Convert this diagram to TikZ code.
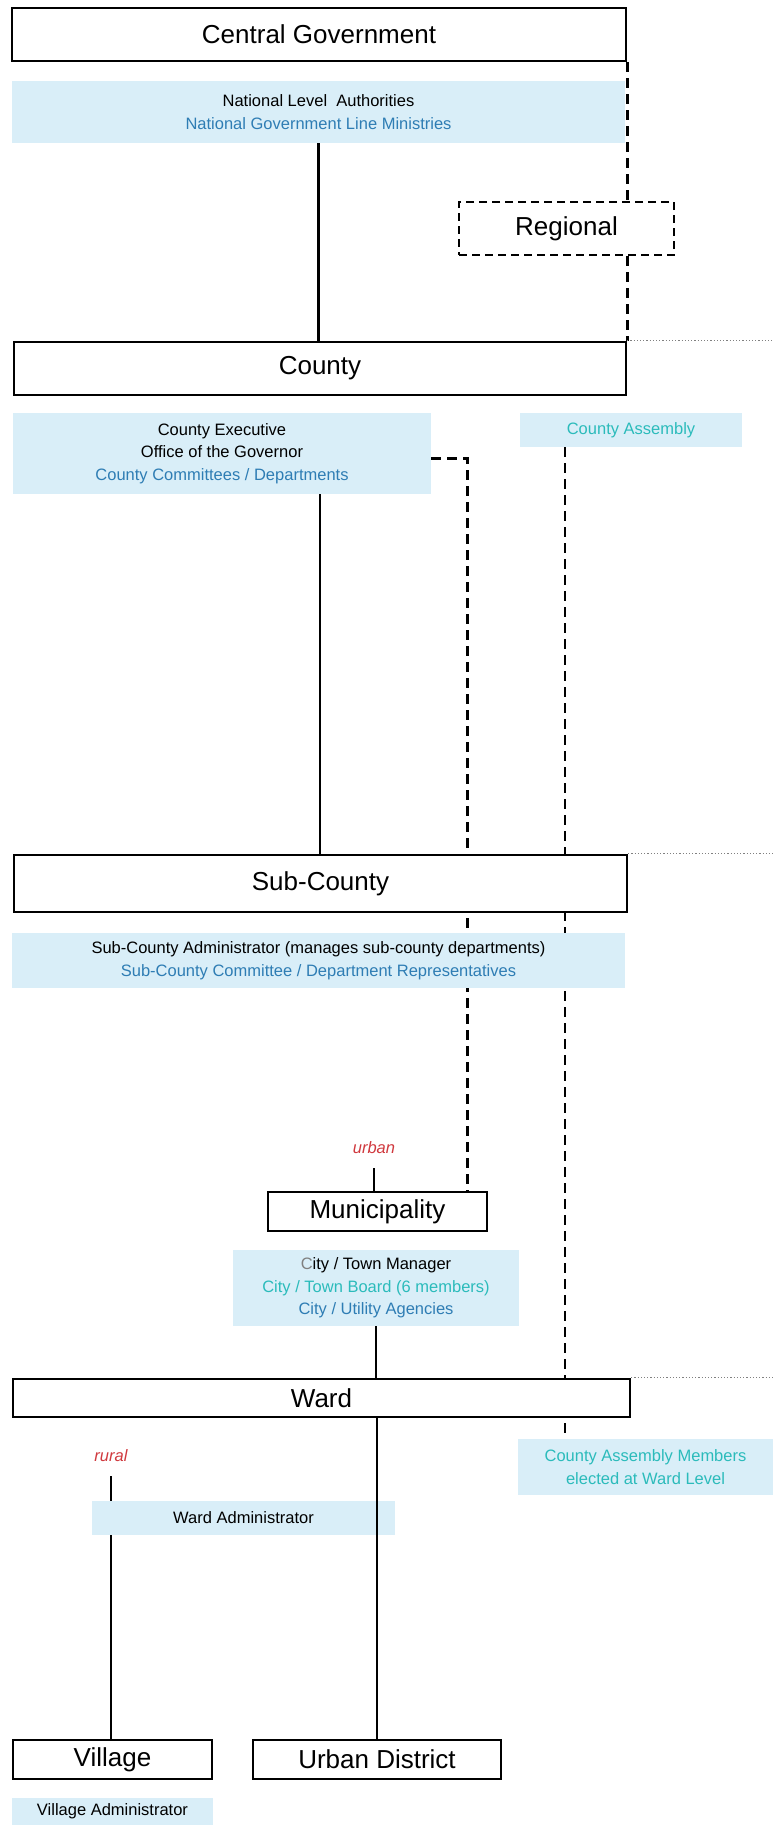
\documentclass[tikz,border=0pt]{standalone}
\usepackage{fontspec}
\setmainfont{Liberation Sans}
\usepackage{tikz}
\usetikzlibrary{backgrounds}
\definecolor{NoteBlue}{RGB}{217, 238, 248}
\definecolor{LineBlue}{RGB}{46, 125, 180}
\definecolor{AsmTeal}{RGB}{43, 187, 187}
\definecolor{TagRed}{RGB}{208, 57, 62}
\newcommand{\lvlfont}{\fontsize{26}{31}\selectfont}
\newcommand{\notefont}{\fontsize{16.5}{22.5}\selectfont}

\begin{document}
\begin{tikzpicture}[x=1pt, y=-1pt,
    lvl/.style={draw, line width=2.5pt, fill=white, inner sep=0pt, font=\lvlfont},
    note/.style={fill=NoteBlue, inner sep=0pt, align=center, font=\notefont},
    tag/.style={inner sep=0pt, text=TagRed, font=\notefont\itshape},
    link/.style={line width=2.5pt},
    dashlink/.style={line width=2.5pt, dash pattern=on 10pt off 6pt},
    guide/.style={gray, dotted, line width=1.2pt}]
  \useasboundingbox (0,0) rectangle (773,1825);
  \coordinate (edge) at (773,0);
  \coordinate (asm) at (565,0);

  % national level
  \node[lvl, minimum width=614pt, minimum height=53pt] (cg) at (319,34.5) {Central Government};
  \node[note, minimum width=613pt, minimum height=62pt] (nat) at (318.5,112)
    {National Level\ \ Authorities\\\textcolor{LineBlue}{National Government Line Ministries}};
  \node[lvl, dash pattern=on 8pt off 5pt, minimum width=215pt, minimum height=53pt] (reg) at (566.5,228.5) {Regional};

  % county level
  \node[lvl, minimum width=612pt, minimum height=53pt] (county) at (320,368.5) {County};
  \node[note, minimum width=418pt, minimum height=81pt] (cexec) at (222,453.5)
    {County Executive\\Office of the Governor\\\textcolor{LineBlue}{County Committees / Departments}};
  \node[note, text=AsmTeal, minimum width=222pt, minimum height=34pt] (cass) at (631,430) {County Assembly};

  % sub-county level
  \node[lvl, minimum width=613pt, minimum height=57pt] (subc) at (320.5,883.5) {Sub-County};
  \node[note, minimum width=613pt, minimum height=55pt] (subadm) at (318.5,960.5)
    {Sub-County Administrator (manages sub-county departments)\\\textcolor{LineBlue}{Sub-County Committee / Department Representatives}};
  \node[tag] (urban) at (374,1148) {urban};
  \node[lvl, minimum width=219pt, minimum height=39pt] (muni) at (377.5,1211.5) {Municipality};
  \node[note, minimum width=286pt, minimum height=76pt] (muniadm) at (376,1288)
    {\textcolor{gray}{C}ity / Town Manager\\\textcolor{AsmTeal}{City / Town Board (6 members)}\\\textcolor{LineBlue}{City / Utility Agencies}};

  % ward level
  \node[lvl, minimum width=617pt, minimum height=38pt] (ward) at (321.5,1398) {Ward};
  \node[note, text=AsmTeal, minimum width=255pt, minimum height=56pt] (cam) at (645.5,1467)
    {County Assembly Members\\elected at Ward Level};
  \node[tag] (rural) at (111,1456) {rural};
  \node[note, minimum width=303pt, minimum height=34pt] (wadm) at (243.5,1518) {Ward Administrator};
  \node[lvl, minimum width=199pt, minimum height=39pt] (village) at (112.5,1759.5) {Village};
  \node[lvl, minimum width=248pt, minimum height=39pt] (udist) at (377,1759.5) {Urban District};
  \node[note, minimum width=201pt, minimum height=27pt] (vadm) at (112.5,1811.5) {Village Administrator};
  \draw[link] (ward.south -| udist.north) -- (udist.north);

  \begin{scope}[on background layer]
    \draw[link] (nat.south) -- (nat.south |- county.north);
    \draw[dashlink] (cg.south east) -- (cg.south east |- reg.north);
    \draw[dashlink] (cg.south east |- reg.south) -- (county.north east);
    \draw[guide] (county.north east) -- (county.north east -| edge);
    \draw[guide] (subc.north east) -- (subc.north east -| edge);
    \draw[guide] (ward.north east) -- (ward.north east -| edge);
    \draw[link] (county |- cexec.south) -- (county |- subc.north);
    \draw[dashlink] ([yshift=-5pt]cexec.east) -| ([xshift=90pt]muni.north);
    \draw[dashlink] (cass.south -| asm) -- (cam.north -| asm);
    \draw[link] ([yshift=-20pt]urban.center) -- (urban |- muni.north);
    \draw[link] (muniadm.south) -- (muniadm.south |- ward.north);
    \draw[link] ([yshift=-20pt]rural.center) -- (rural |- village.north);
  \end{scope}
\end{tikzpicture}
\end{document}
